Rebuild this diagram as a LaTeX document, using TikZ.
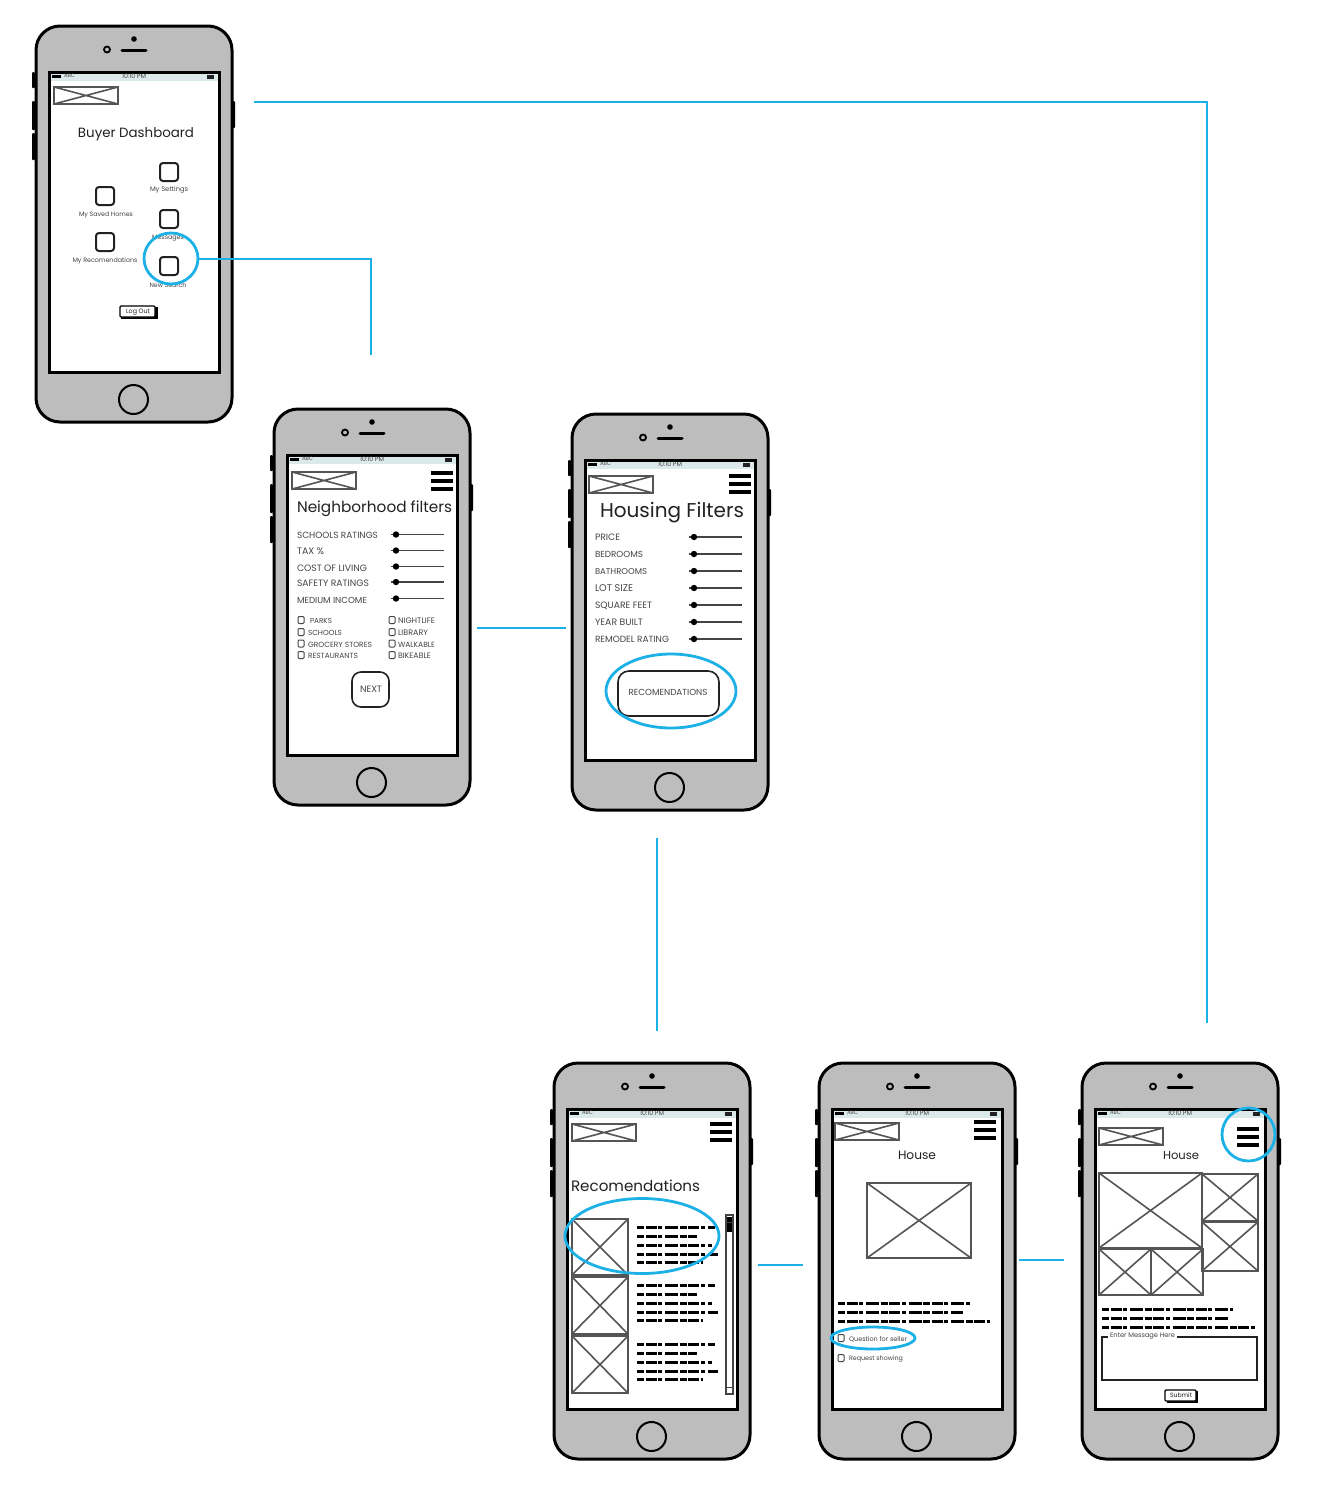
\documentclass[tikz,border=0pt]{standalone}
\usepackage{graphicx}
\usepackage{fontspec}
\setmainfont{Poppins}
\usetikzlibrary{shapes.geometric}
\newlength\ux \setlength\ux{0.02cm}
\definecolor{bluelink}{HTML}{1BB0E6}
\definecolor{bodygray}{HTML}{BDBDBD}
\definecolor{barblue}{HTML}{DCE9EA}
\definecolor{inkdark}{HTML}{222222}
\definecolor{inkmid}{HTML}{444444}
\definecolor{framegray}{HTML}{555555}
\tikzset{
 x=0.02cm,y=-0.02cm,
 phonebody/.style={draw=black,fill=bodygray,line width=3\ux,rounded corners=24\ux,minimum width=196\ux,minimum height=396\ux,inner sep=0pt,outer sep=0pt,anchor=north west},
 phonescreen/.style={draw=black,fill=white,line width=3\ux,minimum width=170\ux,minimum height=300\ux,inner sep=0pt,outer sep=0pt,anchor=north west},
 homekey/.style={circle,draw=black,line width=2\ux,fill=bodygray,minimum size=29\ux,inner sep=0pt},
 sidekey/.style={fill=black,draw=none,rounded corners=1\ux},
 wire/.style={draw=bluelink,line width=2\ux},
 ring/.style={draw=bluelink,line width=2.8\ux,ellipse,inner sep=0pt,outer sep=0pt},
 txt/.style={inner sep=0pt,outer sep=0pt,text=inkdark},
 small/.style={txt,text=inkmid},
 frame/.style={draw=framegray,line width=1.6\ux},
 bars/.style={draw=black,line width=3.2\ux},
 slide/.style={draw=inkmid,line width=1.6\ux},
 cb/.style={draw=inkmid,line width=1\ux,rounded corners=1\ux},
 greek/.style={draw=black,line width=3\ux,dash pattern=on 7\ux off 1.5\ux on 11\ux off 1.5\ux on 4\ux off 3\ux on 13\ux off 1.5\ux},
 iconbox/.style={draw=inkdark,line width=2\ux,rounded corners=3\ux,fill=white},
 btn/.style={draw=black,line width=1.4\ux,fill=white,rounded corners=1\ux},
}
\newcount\tn
\newcommand\tx[6][txt]{\global\advance\tn by 1
 \node[#1,anchor=#2] (t\the\tn) at (#3,#4+1) {\resizebox{#5\ux}{!}{\fontsize{8}{9}\selectfont #6}};}
\newcommand\phone[3]{%
 \node[phonebody] (#1) at (#2+1,#3+1) {};
 \begin{scope}[shift={(#2,#3)}]
  \fill[sidekey] (-3,47) rectangle (0,63);
  \fill[sidekey] (-3,76) rectangle (0,105);
  \fill[sidekey] (-3,108) rectangle (0,135);
  \fill[sidekey] (197,76) rectangle (200,103);
  \node[phonescreen] (#1s) at (14.5,47.5) {};
  \fill[barblue] (16,49) rectangle (183,56);
  \fill[black] (17,49.5) rectangle (26,52.5);
  \tx[small]{west}{29}{50}{11}{ABC}
  \tx[small]{center}{99}{50}{24}{10:10 PM}
  \fill[inkdark] (172,49.5) rectangle (179,53.5);
  \draw[black,line width=1.8\ux] (72,24.5) circle (3);
  \fill[black] (99,14) circle (2.8);
  \draw[black,line width=3\ux,line cap=round] (87,25) -- (111,25);
  \node[homekey] (#1h) at (98.5,374.5) {};
 \end{scope}}
\newcommand\logo[2]{\draw[frame] (#1,#2) rectangle ++(64,17) (#1,#2) -- ++(64,17) (#1,#2+17) -- ++(64,-17);}
\newcommand\burger[2]{\draw[bars] (#1,#2) -- ++(22,0) (#1,#2+8) -- ++(22,0) (#1,#2+16) -- ++(22,0);}
\newcommand\img[4]{\draw[frame] (#1,#2) rectangle (#3,#4) (#1,#2) -- (#3,#4) (#1,#4) -- (#3,#2);}
\newcommand\sld[3]{\draw[slide] (#1,#3) -- (#2,#3); \fill[black] (#1+5,#3) circle (3.2);}
\newcommand\cbx[2]{\draw[cb] (#1-3,#2-3.5) rectangle (#1+3,#2+3.5);}
\newcommand\glin[3]{\draw[greek] (#1,#3) -- (#2,#3);}
\newcommand\icon[2]{\draw[iconbox] (#1-9,#2-9) rectangle (#1+9,#2+9);}
\begin{document}
\begin{tikzpicture}
\useasboundingbox (0,0) rectangle (1322,1488);
\fill[white] (0,0) rectangle (1322,1488);
% ---- phones
\phone{pa}{35}{25}
\phone{pb}{273}{408}
\phone{pc}{571}{413}
\phone{pd}{553}{1062}
\phone{pe}{818}{1062}
\phone{pf}{1081}{1062}
% ---- Buyer Dashboard
\logo{54}{87}
\tx{center}{136}{133}{116}{Buyer Dashboard}
\icon{169}{172} \icon{105}{196} \icon{169}{219} \icon{105}{242} \icon{169}{266}
\tx[small]{center}{169}{189}{38}{My Settings}
\tx[small]{center}{106}{214}{54}{My Saved Homes}
\tx[small]{center}{168}{237}{32}{Messages}
\tx[small]{center}{105}{260}{65}{My Recomendations}
\tx[small]{center}{168}{284}{37}{New Search}
\fill[black] (121,307) rectangle (158,319);
\draw[btn] (120,306) rectangle (155,317);
\tx{center}{138}{311}{24}{Log Out}
% ---- Neighborhood filters
\logo{292}{472}
\burger{431}{473}
\tx{west}{297}{508}{155}{Neighborhood filters}
\tx[small]{west}{297}{534}{81}{SCHOOLS RATINGS}
\tx[small]{west}{297}{550}{27}{TAX \%}
\tx[small]{west}{297}{567}{70}{COST OF LIVING}
\tx[small]{west}{297}{582}{72}{SAFETY RATINGS}
\tx[small]{west}{297}{599}{70}{MEDIUM INCOME}
\sld{391}{444}{534.5} \sld{391}{444}{550.5} \sld{391}{444}{566.5} \sld{391}{444}{582} \sld{391}{444}{598.5}
\cbx{301}{620} \cbx{301}{632} \cbx{301}{643.5} \cbx{301}{655}
\cbx{392}{620} \cbx{392}{632} \cbx{392}{643.5} \cbx{392}{655}
\tx[small]{west}{310}{620}{22}{PARKS}
\tx[small]{west}{308}{632}{34}{SCHOOLS}
\tx[small]{west}{308}{643.5}{64}{GROCERY STORES}
\tx[small]{west}{308}{655}{50}{RESTAURANTS}
\tx[small]{west}{398}{620}{37}{NIGHTLIFE}
\tx[small]{west}{398}{632}{30}{LIBRARY}
\tx[small]{west}{398}{643.5}{37}{WALKABLE}
\tx[small]{west}{398}{655}{33}{BIKEABLE}
\draw[draw=inkdark,line width=1.6\ux,rounded corners=9\ux] (352,672) rectangle (389,707);
\tx[small]{center}{371}{688}{22}{NEXT}
% ---- Housing Filters
\logo{589}{476}
\burger{729}{476}
\tx{west}{600}{512}{144}{Housing Filters}
\tx[small]{west}{595}{536.5}{25}{PRICE}
\tx[small]{west}{595}{553.5}{48}{BEDROOMS}
\tx[small]{west}{595}{570.5}{52}{BATHROOMS}
\tx[small]{west}{595}{587.5}{38}{LOT SIZE}
\tx[small]{west}{595}{604.5}{57}{SQUARE FEET}
\tx[small]{west}{595}{621.5}{48}{YEAR BUILT}
\tx[small]{west}{595}{638.5}{74}{REMODEL RATING}
\sld{689}{742}{537} \sld{689}{742}{554} \sld{689}{742}{571} \sld{689}{742}{588} \sld{689}{742}{605} \sld{689}{742}{622} \sld{689}{742}{639}
\draw[draw=inkdark,line width=1.6\ux,rounded corners=11\ux] (618,671) rectangle (719,716);
\tx[small]{center}{668}{691.5}{79}{RECOMENDATIONS}
% ---- Recomendations
\logo{572}{1124}
\burger{710}{1124}
\tx{west}{571}{1185}{129}{Recomendations}
\img{572}{1219}{628}{1275}
\img{572}{1277}{628}{1334}
\img{572}{1336}{628}{1393}
\foreach \o in {0,58,117}{
 \glin{637}{715}{1227+\o} \glin{637}{697}{1236+\o} \glin{637}{712}{1245+\o} \glin{637}{718}{1254+\o} \glin{637}{703}{1262+\o}
}
\draw[draw=inkmid,line width=1.4\ux] (726,1215) rectangle (733,1394);
\fill[black] (727,1217) rectangle (732,1232);
\draw[draw=inkmid,line width=1\ux] (726,1222) -- (733,1222) (726,1387) -- (733,1387);
% ---- House (detail)
\logo{835}{1123}
\burger{974}{1122}
\tx{center}{917}{1154}{38}{House}
\img{867}{1183}{971}{1258}
\glin{838}{970}{1303} \glin{838}{963}{1312} \glin{838}{990}{1321}
\cbx{841}{1338} \cbx{841}{1358}
\tx[small]{west}{849}{1338}{58}{Question for seller}
\tx[small]{west}{849}{1358}{54}{Request showing}
% ---- House (message)
\logo{1099}{1128}
\burger{1237}{1129}
\tx{center}{1181}{1155}{36}{House}
\img{1099}{1173}{1202}{1248}
\img{1202}{1174}{1258}{1221}
\img{1202}{1222}{1258}{1271}
\img{1099}{1249}{1151}{1295}
\img{1151}{1249}{1203}{1295}
\glin{1102}{1233}{1309} \glin{1102}{1228}{1318} \glin{1102}{1255}{1327}
\draw[draw=inkdark,line width=1.6\ux] (1108,1337) -- (1102,1337) -- (1102,1380) -- (1257,1380) -- (1257,1337) -- (1177,1337);
\tx[small]{west}{1110}{1335.5}{65}{Enter Message Here}
\fill[black] (1167,1391) rectangle (1198,1403);
\draw[btn] (1165,1390) rectangle (1196,1401);
\tx{center}{1181}{1394.5}{22}{Submit}
% ---- blue highlights
\node[ring,minimum width=54\ux,minimum height=51\ux] (r1) at (171,258.5) {};
\node[ring,minimum width=130\ux,minimum height=74\ux] (r2) at (671,691) {};
\node[ring,minimum width=154\ux,minimum height=75\ux] (r3) at (642,1236) {};
\node[ring,minimum width=84\ux,minimum height=22\ux] (r4) at (873,1338) {};
\node[ring,minimum width=53\ux,minimum height=53\ux] (r5) at (1248.5,1134.5) {};
% ---- connectors
\coordinate (a1) at (254,102);
\coordinate (a2) at (1207,1023);
\coordinate (b2) at (371,355);
\coordinate (c1) at (477,628);
\coordinate (c2) at (566,628);
\coordinate (d1) at (657,838);
\coordinate (d2) at (657,1031);
\coordinate (e1) at (758,1265);
\coordinate (e2) at (803,1265);
\coordinate (f1) at (1019,1260);
\coordinate (f2) at (1064,1260);
\draw[wire] (a1) -| (a2);
\draw[wire] (r1.east) -| (b2);
\draw[wire] (c1) -- (c2);
\draw[wire] (d1) -- (d2);
\draw[wire] (e1) -- (e2);
\draw[wire] (f1) -- (f2);
\end{tikzpicture}
\end{document}
